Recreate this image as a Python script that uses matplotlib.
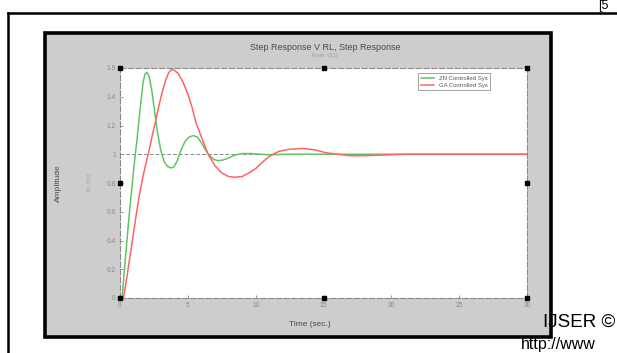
"""ZN vs GA step response (MATLAB screenshot style)"""
import matplotlib
matplotlib.use('Agg')
import matplotlib.pyplot as plt
import matplotlib.patches as mpatches
from matplotlib.lines import Line2D

plt.rcParams['font.family'] = ['Liberation Sans', 'DejaVu Sans']

# values
t_zn = [0, 0.15, 0.4, 0.7, 1.0, 1.25, 1.5, 1.7, 1.85, 2.0, 2.15, 2.35, 2.55, 2.75, 3.0, 3.25, 3.5, 3.75,
        3.95, 4.2, 4.5, 4.8, 5.1, 5.4, 5.7, 6.0, 6.3, 6.6, 6.9, 7.2, 7.6, 8.0, 8.5, 9.0, 9.6, 10.3, 11.0,
        12.5, 15, 20, 25, 30]
y_zn = [0, 0.0, 0.28, 0.6, 0.89, 1.1, 1.33, 1.5, 1.56, 1.57, 1.54, 1.44, 1.3, 1.16, 1.03, 0.95, 0.915, 0.905,
        0.91, 0.95, 1.03, 1.09, 1.12, 1.13, 1.12, 1.08, 1.03, 0.99, 0.965, 0.955, 0.96, 0.975, 0.995, 1.005,
        1.005, 1.0, 0.997, 1.0, 1.0, 1.0, 1.0, 1.0]

t_ga = [0, 0.25, 0.5, 0.8, 1.1, 1.4, 1.7, 1.9, 2.15, 2.4, 2.6, 2.85, 3.1, 3.35, 3.6, 3.8, 4.0, 4.3, 4.6,
        5.0, 5.3, 5.6, 6.0, 6.5, 7.0, 7.5, 8.0, 8.45, 9.0, 9.5, 10.0, 10.5, 11.0, 11.7, 12.5, 13.5, 14.4,
        15.2, 16.0, 17.0, 18.0, 19.5, 21, 24, 27, 30]
y_ga = [0, 0.0, 0.14, 0.33, 0.52, 0.7, 0.85, 0.93, 1.03, 1.14, 1.22, 1.33, 1.43, 1.51, 1.57, 1.59, 1.585,
        1.56, 1.51, 1.42, 1.33, 1.22, 1.12, 1.0, 0.92, 0.87, 0.845, 0.84, 0.845, 0.87, 0.9, 0.945, 0.985,
        1.02, 1.035, 1.04, 1.03, 1.01, 1.0, 0.99, 0.99, 0.995, 1.0, 1.0, 1.0, 1.0]

x_ticks = [0, 5, 10, 15, 20, 25, 30]
y_ticks = [0, 0.2, 0.4, 0.6, 0.8, 1, 1.2, 1.4, 1.6]
y_tick_labels = ['0', '0.2', '0.4', '0.6', '0.8', '1', '1.2', '1.4', '1.6']

GREEN = '#62c462'
RED = '#ff6464'
GREY = '#8a8a8a'

fig = plt.figure(figsize=(6.17, 3.53), dpi=100)
fig.patch.set_facecolor('white')

# page frame
fig.add_artist(Line2D([8/617, 8/617], [0, 340/353], color='black', lw=1.8))
fig.add_artist(Line2D([8/617, 1.0], [340/353, 340/353], color='black', lw=1.8))

# grey figure window with heavy black frame
fig.add_artist(mpatches.Rectangle((45/617, 16/353), 506/617, 304/353, transform=fig.transFigure,
                                  fc='#cdcdcd', ec='black', lw=2.6, zorder=0))

ax = fig.add_axes([120/617, 55/353, 407/617, 230/353])
ax.set_facecolor('white')
ax.plot(t_zn, y_zn, color=GREEN, lw=1.1, label='ZN Controlled Sys')
ax.plot(t_ga, y_ga, color=RED, lw=1.1, label='GA Controlled Sys')
ax.axhline(1, color=GREY, lw=0.7, ls=(0, (4, 2)), zorder=1)
ax.set_xlim(0, 30)
ax.set_ylim(0, 1.6)
ax.set_xticks(x_ticks)
ax.set_yticks(y_ticks)
ax.set_yticklabels(y_tick_labels)
ax.tick_params(direction='in', length=2, width=0.6, colors=GREY, labelsize=4.8, pad=3)
for s in ax.spines.values():
    s.set_color(GREY)
    s.set_linewidth(0.8)
    s.set_linestyle((0, (5, 2)))

# selection handles
hx = [0, 15, 30, 0, 30, 0, 15, 30]
hy = [0, 0, 0, 0.8, 0.8, 1.6, 1.6, 1.6]
ax.plot(hx, hy, 's', color='black', ms=3.2, clip_on=False, zorder=5)

leg = ax.legend(loc='upper right', bbox_to_anchor=(0.916, 0.99), fontsize=4.3, frameon=True,
                fancybox=False, handlelength=2.2, borderpad=0.4, labelspacing=0.3)
leg.get_frame().set_edgecolor(GREY)
leg.get_frame().set_linewidth(0.7)
for txt in leg.get_texts():
    txt.set_color('#555555')

fig.text(325/617, 1 - 47/353, 'Step Response V RL, Step Response', ha='center', va='center',
         fontsize=6.5, color='#4a4a4a')
fig.text(325/617, 1 - 55/353, 'From: U(1)', ha='center', va='center', fontsize=3.8, color='#999999')
fig.text(310/617, 1 - 325/353, 'Time (sec.)', ha='center', va='center', fontsize=6, color='#4a4a4a')
fig.text(58/617, 1 - 183/353, 'Amplitude', ha='center', va='center', rotation=90, fontsize=6,
         color='#4a4a4a')
fig.text(90/617, 1 - 183/353, 'To: Y(1)', ha='center', va='center', rotation=90, fontsize=3.8,
         color='#999999')

# page text around the figure
fig.text(598/617, 1 - 6/353, '[5', ha='left', va='center', fontsize=9, color='black')
fig.text(543/617, 1 - 322/353, 'IJSER ©', ha='left', va='center', fontsize=13.5, color='black')
fig.text(521/617, 1 - 344/353, 'http://www', ha='left', va='center', fontsize=11.5, color='black')

fig.savefig('out.png', dpi=100, facecolor='white')
plt.close(fig)
